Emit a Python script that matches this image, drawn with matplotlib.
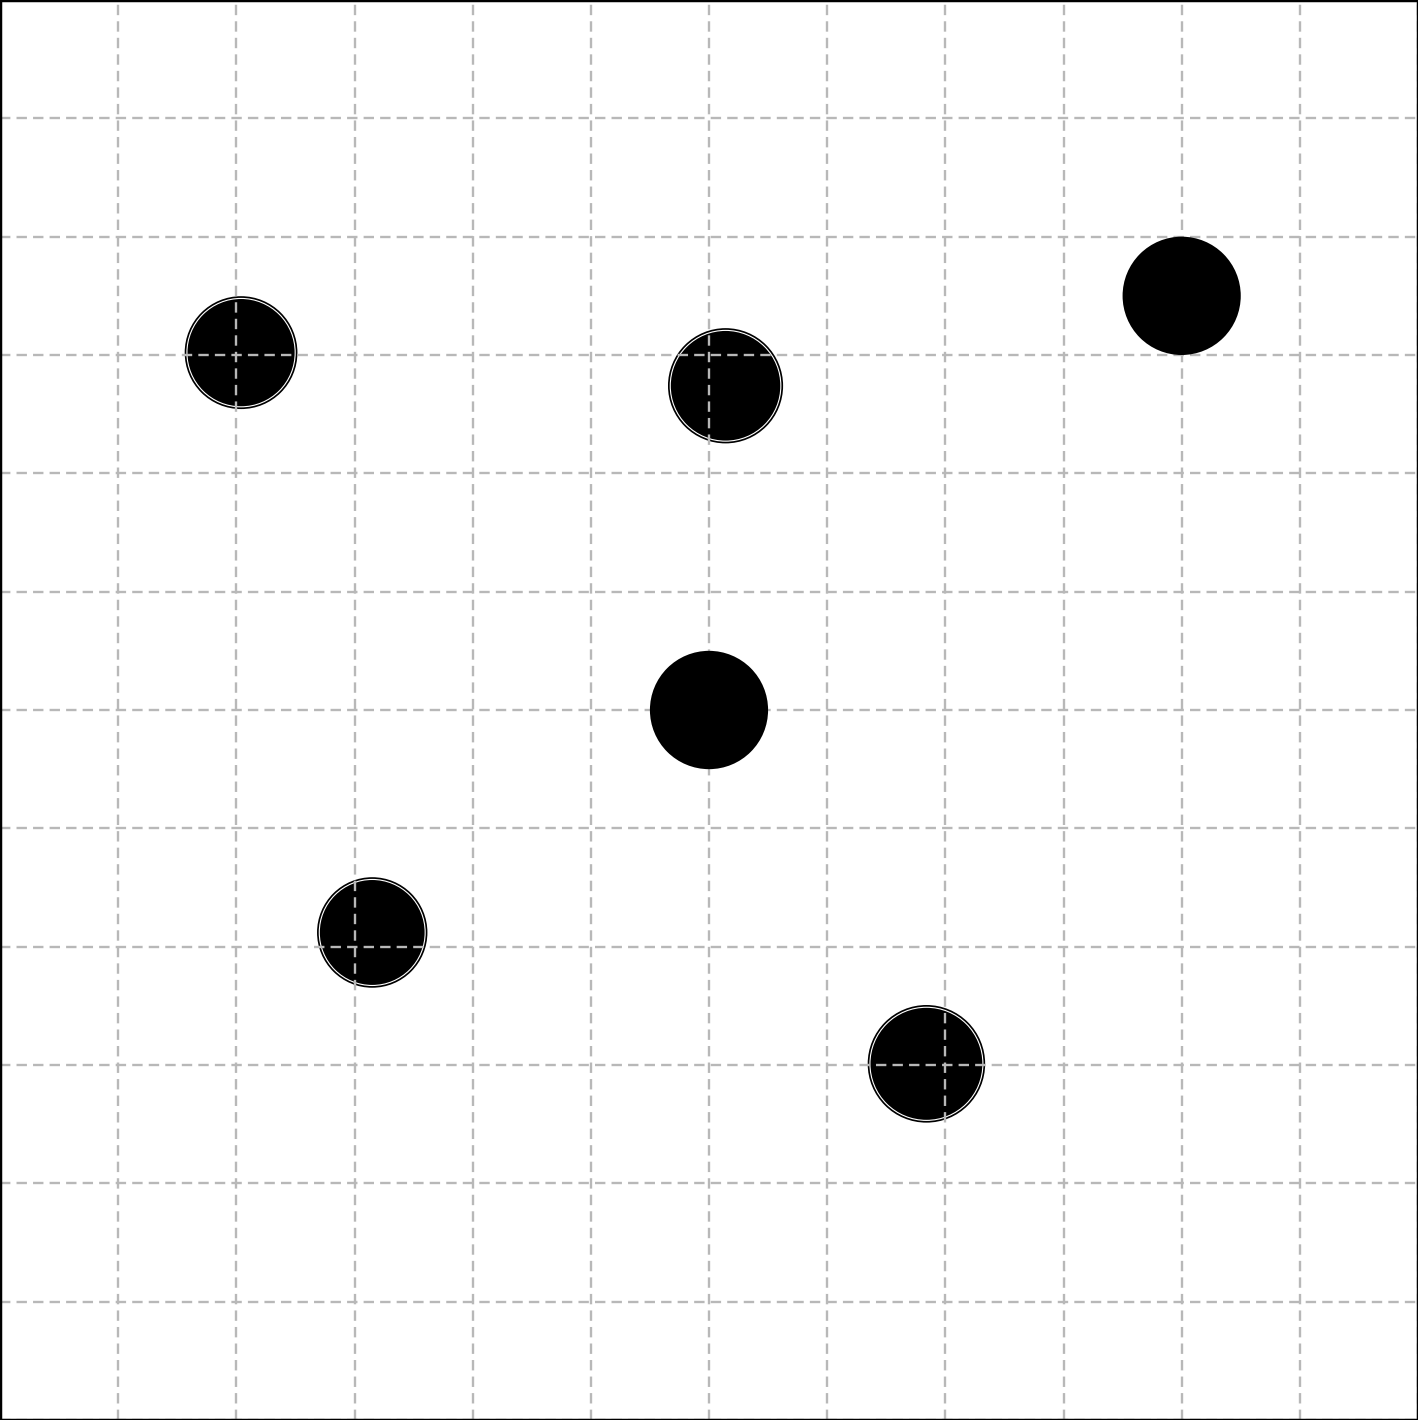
import matplotlib
matplotlib.use("Agg")
import matplotlib.pyplot as plt
from matplotlib.patches import Circle

# Data (x, y, radius) in data units
solid_x = [10.0, 6.0]
solid_y = [9.5, 6.0]
solid_r = [0.50, 0.50]

ring_x = [2.04, 6.14, 3.15, 7.84]
ring_y = [9.02, 8.74, 4.12, 3.01]
ring_r = [0.47, 0.48, 0.46, 0.49]

x_ticks = list(range(0, 13))
y_ticks = list(range(0, 13))

fig = plt.figure(figsize=(14.18, 14.20), dpi=100)
ax = fig.add_axes([0, 0, 1, 1])
ax.set_xlim(0, 12)
ax.set_ylim(0, 12)
ax.set_xticks(x_ticks)
ax.set_yticks(y_ticks)
ax.tick_params(length=0, labelbottom=False, labelleft=False)
ax.set_axisbelow('line')
ax.grid(True, color='#b8b8b8', linewidth=1.7, linestyle=(0, (4.4, 2.6)))
for s in ax.spines.values():
    s.set_linewidth(2.5)
    s.set_color('black')

for x, y, r in zip(ring_x, ring_y, ring_r):
    ax.add_patch(Circle((x, y), r, facecolor='black', edgecolor='black', lw=1.2, zorder=1))
    ax.add_patch(Circle((x, y), r - 0.012, fill=False, edgecolor='white', lw=0.8, zorder=1.1))

for x, y, r in zip(solid_x, solid_y, solid_r):
    ax.add_patch(Circle((x, y), r, facecolor='black', edgecolor='none', zorder=3))

fig.savefig('out.png', dpi=100)
